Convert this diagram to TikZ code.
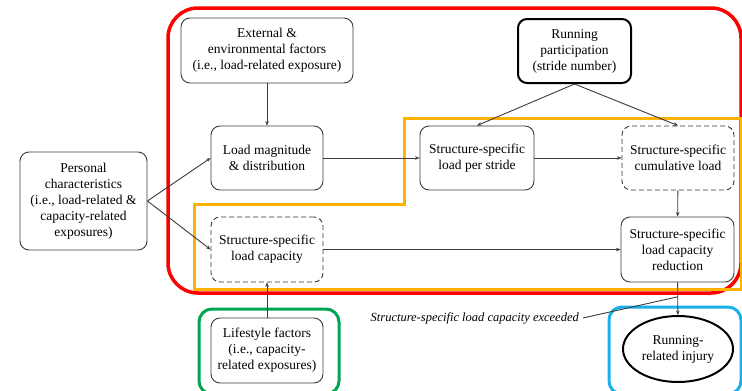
\documentclass[tikz,border=0pt]{standalone}
\usepackage{fontspec}
\setmainfont{Liberation Serif}
\usetikzlibrary{arrows.meta,shapes.geometric,calc}
\definecolor{frameRed}{HTML}{FF0000}
\definecolor{frameOrange}{HTML}{FFB300}
\definecolor{frameGreen}{HTML}{00A651}
\definecolor{frameBlue}{HTML}{1CB0EA}
\definecolor{boxLine}{HTML}{3A3A3A}
\tikzset{
  box/.style={draw=boxLine, line width=0.9pt, rounded corners=9pt, align=center,
    inner sep=1pt, font=\fontsize{13.5}{16}\selectfont, text=black},
  dashbox/.style={box, dash pattern=on 5pt off 3pt},
  thickbox/.style={box, draw=black, line width=2pt},
  link/.style={draw=boxLine, line width=0.9pt},
  arr/.style={link, -{Stealth[length=4.5pt,width=3.5pt]}},
  frame/.style={line width=3pt}
}
\begin{document}
\begin{tikzpicture}[x=1pt,y=-1pt]
\useasboundingbox (0,0) rectangle (742,391);
% coloured grouping frames
\draw[frame, draw=frameRed, line width=3.5pt, rounded corners=30pt]
  (168,8) rectangle (741,293);
\draw[frame, draw=frameOrange]
  (404,118) -- (741,118) -- (741,289) -- (194,289) -- (194,204) -- (404,204) -- cycle;
\draw[frame, draw=frameGreen, rounded corners=13pt] (199,309) rectangle (339,394);
\draw[frame, draw=frameBlue, rounded corners=13pt] (609,307) rectangle (741,394);
% nodes
\node[box, minimum width=172pt, minimum height=65pt] (ext) at (267,50.5)
  {External \&\\environmental factors\\(i.e., load-related exposure)};
\node[thickbox, minimum width=113pt, minimum height=64pt] (run) at (574.5,51)
  {Running\\participation\\(stride number)};
\node[box, minimum width=112pt, minimum height=64pt] (mag) at (267,158)
  {Load magnitude\\\& distribution};
\node[box, minimum width=114pt, minimum height=64pt] (per) at (477,158)
  {Structure-specific\\load per stride};
\node[dashbox, minimum width=112pt, minimum height=64pt] (cum) at (678,158)
  {Structure-specific\\cumulative load};
\node[box, minimum width=127pt, minimum height=98pt] (pers) at (83.5,201)
  {Personal\\characteristics\\(i.e., load-related \&\\capacity-related\\exposures)};
\node[dashbox, minimum width=112pt, minimum height=65pt] (cap) at (267,249.5)
  {Structure-specific\\load capacity};
\node[box, minimum width=113pt, minimum height=65pt] (red) at (677.5,249.5)
  {Structure-specific\\load capacity\\reduction};
\node[box, minimum width=112pt, minimum height=65pt] (life) at (267,350.5)
  {Lifestyle factors\\(i.e., capacity-\\related exposures)};
\node[ellipse, draw=black, line width=2pt, minimum width=110pt, minimum height=66pt,
  inner sep=0pt, align=center, font=\fontsize{13.5}{16}\selectfont, text=black]
  (inj) at (678,349) {Running-\\related injury};
\node[anchor=east, inner sep=0pt, font=\fontsize{12.5}{15}\selectfont\itshape, text=black]
  (exc) at (579,318) {Structure-specific load capacity exceeded};
% connectors
\draw[arr] (ext) -- (mag);
\coordinate (pout) at (pers.east);
\draw[arr] (pout) -- (mag.west);
\draw[arr] (pout) -- (cap.west);
\draw[arr] (mag) -- (per);
\draw[arr] (run.south) -- (per.north);
\draw[arr] (run.south) -- (cum.north);
\draw[arr] (per) -- (cum);
\draw[arr] (cum) -- (red);
\draw[arr] (cap.east) -- (cap.east -| red.west);
\draw[arr] (life) -- (cap);
\draw[arr] (red) -- (inj);
\coordinate (hit) at ($(red.south)!0.44!(inj.north)$);
\draw[link] ([xshift=4pt]exc.east) -- (hit);
\end{tikzpicture}
\end{document}
